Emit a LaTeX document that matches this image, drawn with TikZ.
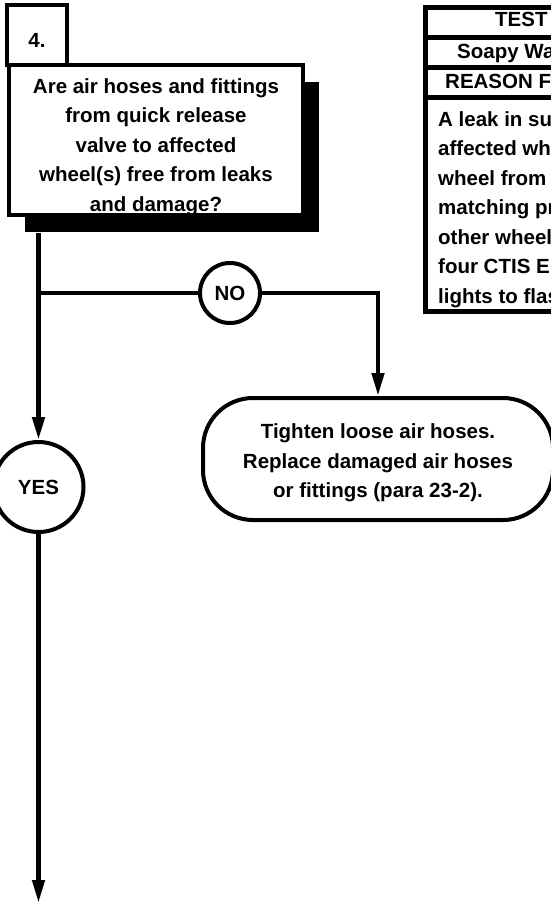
\documentclass[tikz,border=0pt]{standalone}
\usepackage{fontspec}
\setmainfont{Liberation Sans}
\usetikzlibrary{arrows.meta,shadows}
\begin{document}
\begin{tikzpicture}[x=1pt,y=-1pt,
  txt/.style={font=\fontsize{20.5}{29.5}\selectfont\bfseries},
  boxline/.style={line width=4pt},
  conn/.style={line width=4.5pt},
  arr/.style={conn,-{Triangle[length=23pt,width=12pt]}},
  bubble/.style={circle,draw,boxline,fill=white,inner sep=0pt,txt},
  cell/.style={rectangle,draw,line width=4.5pt,fill=white,inner sep=0pt,anchor=north west},
  celltext/.style={txt,anchor=base west,inner sep=0pt},
  blocktext/.style={txt,align=center,inner sep=0pt}
]
\useasboundingbox (0,0) rectangle (551,914);
\fill[white] (0,0) rectangle (551,914);

% step number box
\node[rectangle,draw,boxline,minimum width=60pt,minimum height=60pt,inner sep=0pt] (num) at (37,35) {};
\node[txt,inner sep=0pt] (numtxt) at (37,40) {4.};

% question box with shadow
\node[rectangle,draw,boxline,fill=white,minimum width=294pt,minimum height=150pt,inner sep=0pt,
  drop shadow={shadow xshift=16pt,shadow yshift=-17pt,opacity=1,fill=black}] (q) at (156,140) {};
\node[blocktext] (qtxt) at (156,147)
  {Are air hoses and fittings\\from quick release\\valve to affected\\wheel(s) free from leaks\\and damage?};

% table at upper right
\node[cell,minimum width=300pt,minimum height=30pt] (r1) at (423,5) {};
\node[cell,minimum width=300pt,minimum height=30pt] (r2) at (423,35) {};
\node[cell,minimum width=300pt,minimum height=30pt] (r3) at (423,65) {};
\node[cell,minimum width=300pt,minimum height=214pt] (r4) at (423,95) {};
\node[celltext] (t1) at (495,26) {TEST};
\node[celltext] (t2) at (457,58) {Soapy Wa};
\node[celltext] (t3) at (445,88) {REASON F};
\node[celltext] (b1) at (438,126) {A leak in su};
\node[celltext] (b2) at (438,155.5) {affected wh};
\node[celltext] (b3) at (438,185) {wheel from};
\node[celltext] (b4) at (438,214.5) {matching pr};
\node[celltext] (b5) at (438,244) {other wheel};
\node[celltext] (b6) at (438,273.5) {four CTIS E};
\node[celltext] (b7) at (438,303) {lights to flas};

% decision bubbles
\node[bubble,minimum size=60pt] (no) at (230,293) {NO};
\node[bubble,minimum size=90pt] (yes) at (38.5,487) {YES};

% action box
\node[rectangle,rounded corners=50pt,draw,boxline,fill=white,minimum width=350pt,minimum height=122pt,
  inner sep=0pt] (fix) at (378,459) {};
\node[blocktext] (fixtxt) at (378,463)
  {Tighten loose air hoses.\\Replace damaged air hoses\\or fittings (para 23-2).};

% connectors
\coordinate (vstart) at (38.5,233);
\coordinate (jn) at (38.5,293);
\coordinate (vend) at (38.5,903);
\draw[arr] (vstart) -- (yes.north);
\draw[conn] (jn) -- (no.west);
\draw[arr] (no.east) -| (fix.north);
\draw[arr] (yes.south) -- (vend);
\end{tikzpicture}
\end{document}
